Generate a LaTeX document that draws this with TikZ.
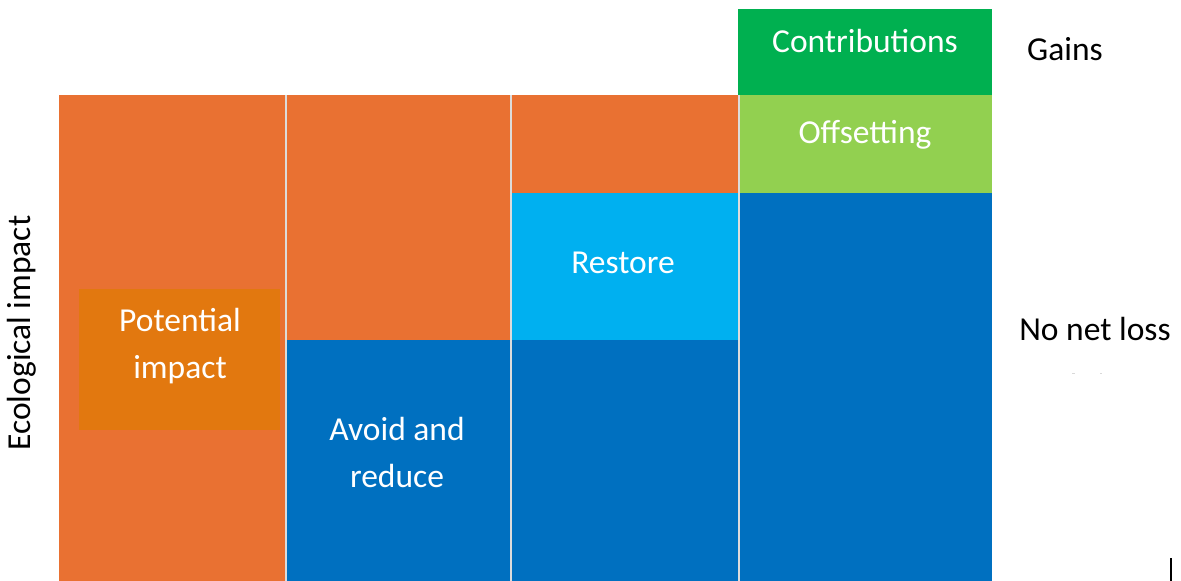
\documentclass[tikz,border=0pt]{standalone}
\usepackage{fontspec}
\setmainfont{Carlito}
\definecolor{impactorange}{HTML}{E97132}
\definecolor{potentialorange}{HTML}{E2780F}
\definecolor{deepblue}{HTML}{0070C0}
\definecolor{skyblue}{HTML}{00B0F0}
\definecolor{darkgreen}{HTML}{00B050}
\definecolor{lightgreen}{HTML}{92D050}
\definecolor{seam}{HTML}{DCDCDC}
\tikzset{
  block/.style={rectangle, draw=none, inner sep=0pt, outer sep=0pt, anchor=north west},
  boxtext/.style={text=white, font=\fontsize{33.5}{47}\selectfont, align=center, inner sep=0pt},
  sidetext/.style={text=black, font=\fontsize{33.5}{40}\selectfont, inner sep=0pt},
  seamline/.style={draw=seam, line width=2pt}
}
\begin{document}
\begin{tikzpicture}[x=1pt, y=-1pt]
\useasboundingbox (0,0) rectangle (1181,581);
% column 1: potential impact
\node[block, fill=impactorange, minimum width=227pt, minimum height=486pt] (c1) at (59,95) {};
\node[block, fill=potentialorange, minimum width=201pt, minimum height=141pt] (pot) at (79,289) {};
% column 2: avoid and reduce
\node[block, fill=impactorange, minimum width=225pt, minimum height=245pt] (c2top) at (286,95) {};
\node[block, fill=deepblue, minimum width=225pt, minimum height=241pt] (c2low) at (286,340) {};
% column 3: restore
\node[block, fill=impactorange, minimum width=228pt, minimum height=98pt] (c3top) at (511,95) {};
\node[block, fill=skyblue, minimum width=228pt, minimum height=147pt] (c3mid) at (511,193) {};
\node[block, fill=deepblue, minimum width=228pt, minimum height=241pt] (c3low) at (511,340) {};
% column 4: offsetting and contributions
\node[block, fill=darkgreen, minimum width=254pt, minimum height=86pt] (contrib) at (738,9) {};
\node[block, fill=lightgreen, minimum width=253pt, minimum height=98pt] (offset) at (739,95) {};
\node[block, fill=deepblue, minimum width=253pt, minimum height=388pt] (c4low) at (739,193) {};
% seams between columns
\coordinate (s1t) at (286,95);  \coordinate (s1b) at (286,581);
\coordinate (s2t) at (511,95);  \coordinate (s2b) at (511,581);
\coordinate (s3t) at (739,95);  \coordinate (s3b) at (739,581);
\draw[seamline] (s1t) -- (s1b);
\draw[seamline] (s2t) -- (s2b);
\draw[seamline] (s3t) -- (s3b);
% labels inside the blocks
\node[boxtext] (tpot) at (180,346) {Potential\\impact};
\node[boxtext] (tavoid) at (397,452) {Avoid and\\reduce};
\node[boxtext] (trestore) at (623,263) {Restore};
\node[boxtext] (toffset) at (865,135) {Offsetting};
\node[boxtext] (tcontrib) at (865,41) {Contributions};
% side labels
\node[sidetext] (gains) at (1065,49) {Gains};
\node[sidetext] (nnl) at (1095,329) {No net loss};
\node[sidetext, rotate=90] (axis) at (22,333) {Ecological impact};
% small marks at the right edge
\coordinate (m1a) at (1072,373); \coordinate (m1b) at (1075,373);
\coordinate (m2a) at (1100,373); \coordinate (m2b) at (1102,373);
\draw[gray!30, line width=0.8pt] (m1a) -- (m1b);
\draw[gray!30, line width=0.8pt] (m2a) -- (m2b);
\coordinate (tickt) at (1171,558); \coordinate (tickb) at (1171,581);
\draw[black, line width=1.2pt] (tickt) -- (tickb);
\end{tikzpicture}
\end{document}
